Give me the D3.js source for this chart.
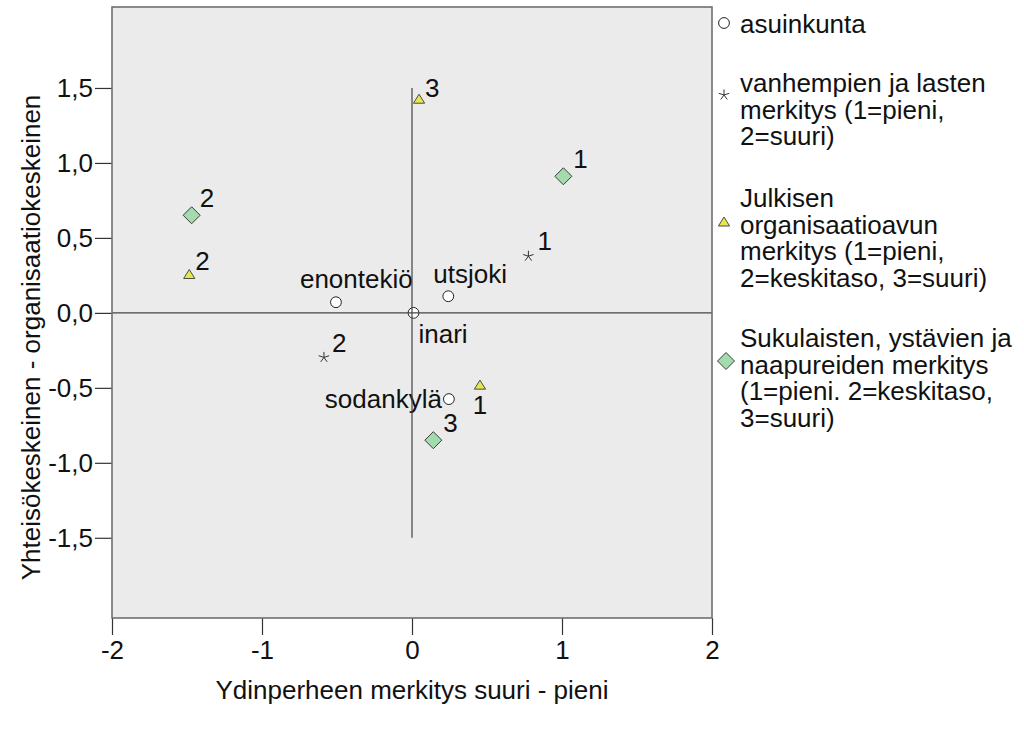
<!DOCTYPE html>
<html>
<head>
<meta charset="utf-8">
<script src="https://cdn.jsdelivr.net/npm/d3@7"></script>
<style>
  html, body { margin: 0; padding: 0; background: #ffffff; }
  svg { display: block; font-family: "Liberation Sans", Arial, sans-serif; }
</style>
</head>
<body>
<svg id="chart" width="1024" height="739"></svg>
<script>
// ---------- data ----------
const asuinkuntaNames = ["enontekiö", "utsjoki", "inari", "sodankylä"];
const asuinkuntaX = [-0.507, 0.242, 0.01, 0.246];
const asuinkuntaY = [0.071, 0.111, 0.0, -0.575];

const vanhempienLabels = ["1", "2"];
const vanhempienX = [0.776, -0.587];
const vanhempienY = [0.378, -0.297];

const julkisenLabels = ["1", "2", "3"];
const julkisenX = [0.453, -1.485, 0.047];
const julkisenY = [-0.482, 0.256, 1.425];

const sukulaistenLabels = ["1", "2", "3"];
const sukulaistenX = [1.009, -1.469, 0.142];
const sukulaistenY = [0.911, 0.651, -0.849];

const xTicks = [-2, -1, 0, 1, 2];
const yTicks = [-1.5, -1.0, -0.5, 0.0, 0.5, 1.0, 1.5];

const xTitle = "Ydinperheen merkitys suuri - pieni";
const yTitle = "Yhteisökeskeinen - organisaatiokeskeinen";

const legendLines = [
  ["asuinkunta"],
  ["vanhempien ja lasten", "merkitys (1=pieni,", "2=suuri)"],
  ["Julkisen", "organisaatioavun", "merkitys (1=pieni,", "2=keskitaso, 3=suuri)"],
  ["Sukulaisten, ystävien ja", "naapureiden merkitys", "(1=pieni. 2=keskitaso,", "3=suuri)"]
];

// ---------- layout / style ----------
const svg = d3.select("#chart");
const plot = { left: 112, right: 712, top: 7, bottom: 618 };
const FONT = 26;

const x = d3.scaleLinear().domain([-2, 2]).range([plot.left, plot.right]);
const y = d3.scaleLinear().domain([-2.035, 2.04]).range([plot.bottom, plot.top]);

const commaFmt = v => d3.format(".1f")(v).replace(".", ",").replace("−", "-");

// symbol paths
const shapes = {
  circle: d3.symbol().type(d3.symbolCircle).size(Math.PI * 5.4 * 5.4)(),
  star: (() => {
    const p = d3.path(); const r = 5.5;
    for (let i = 0; i < 5; i++) {
      const a = -Math.PI / 2 + i * 2 * Math.PI / 5;
      p.moveTo(0, 0); p.lineTo(r * Math.cos(a), r * Math.sin(a));
    }
    return p.toString();
  })(),
  triangle: "M0,-5L5.6,4L-5.6,4Z",
  diamond: "M0,-8.5L8.5,0L0,8.5L-8.5,0Z"
};
const styles = {
  circle: { fill: "#ffffff", stroke: "#222222", sw: 1 },
  star: { fill: "none", stroke: "#333333", sw: 1 },
  triangle: { fill: "#e6e650", stroke: "#3a3a3a", sw: 0.9 },
  diamond: { fill: "#a3dbad", stroke: "#3c3c3c", sw: 1 }
};

// plot background
svg.append("rect")
  .attr("x", plot.left).attr("y", plot.top)
  .attr("width", plot.right - plot.left).attr("height", plot.bottom - plot.top)
  .attr("fill", "#ebebeb");

// axes
const xAxis = svg.append("g")
  .attr("transform", `translate(0,${plot.bottom})`)
  .call(d3.axisBottom(x).tickValues(xTicks).tickSize(17).tickPadding(6).tickFormat(d3.format("d")));
const yAxis = svg.append("g")
  .attr("transform", `translate(${plot.left},0)`)
  .call(d3.axisLeft(y).tickValues(yTicks).tickSize(17).tickPadding(2).tickFormat(commaFmt));
[xAxis, yAxis].forEach(g => {
  g.select(".domain").remove();
  g.selectAll(".tick line").attr("stroke", "#333").attr("stroke-width", 1.2);
  g.selectAll(".tick text").attr("fill", "#111").style("font-size", FONT + "px")
    .style("font-family", "'Liberation Sans', Arial, sans-serif");
});
xAxis.selectAll(".tick text").text(d => d3.format("d")(d).replace("−", "-"));

// axis titles
svg.append("text")
  .attr("x", (plot.left + plot.right) / 2).attr("y", 699)
  .attr("text-anchor", "middle").style("font-size", FONT + "px").attr("fill", "#111")
  .text(xTitle);
svg.append("text")
  .attr("transform", `translate(40,${(plot.top + plot.bottom) / 2 + 25}) rotate(-90)`)
  .attr("text-anchor", "middle").style("font-size", FONT + "px").attr("fill", "#111")
  .text(yTitle);

// point label offsets (layout only)
const labelOffsets = {
  asuinkunta: [[-36, -14, "start"], [-15, -13, "start"], [5, 30, "start"], [-7, 9, "end"]],
  vanhempien: [[9, -6, "start"], [8, -5, "start"]],
  julkisen: [[0, 29, "middle"], [6, -4, "start"], [6, -2, "start"]],
  sukulaisten: [[10, -8, "start"], [8, -8, "start"], [10, -8, "start"]]
};

const series = [
  { key: "asuinkunta", shape: "circle", xs: asuinkuntaX, ys: asuinkuntaY, labels: asuinkuntaNames },
  { key: "vanhempien", shape: "star", xs: vanhempienX, ys: vanhempienY, labels: vanhempienLabels },
  { key: "julkisen", shape: "triangle", xs: julkisenX, ys: julkisenY, labels: julkisenLabels },
  { key: "sukulaisten", shape: "diamond", xs: sukulaistenX, ys: sukulaistenY, labels: sukulaistenLabels }
];

series.forEach(s => {
  const pts = s.xs.map((v, i) => ({ x: v, y: s.ys[i], label: s.labels[i], off: labelOffsets[s.key][i] }));
  const g = svg.append("g").attr("class", "series-" + s.key);
  const st = styles[s.shape];
  g.selectAll("path").data(pts).join("path")
    .attr("d", shapes[s.shape])
    .attr("transform", d => `translate(${x(d.x)},${y(d.y)})`)
    .attr("fill", st.fill).attr("stroke", st.stroke).attr("stroke-width", st.sw);
  g.selectAll("text").data(pts).join("text")
    .attr("x", d => x(d.x) + d.off[0]).attr("y", d => y(d.y) + d.off[1])
    .attr("text-anchor", d => d.off[2])
    .style("font-size", FONT + "px").attr("fill", "#111")
    .text(d => d.label);
});

// reference lines at 0 (drawn over the markers, as in the original)
svg.append("line")
  .attr("x1", x(-2)).attr("x2", x(2)).attr("y1", y(0)).attr("y2", y(0))
  .attr("stroke", "#444").attr("stroke-width", 1.2);
svg.append("line")
  .attr("x1", x(0)).attr("x2", x(0)).attr("y1", y(1.5)).attr("y2", y(-1.5))
  .attr("stroke", "#444").attr("stroke-width", 1.2);

// frame
svg.append("rect")
  .attr("x", plot.left).attr("y", plot.top)
  .attr("width", plot.right - plot.left).attr("height", plot.bottom - plot.top)
  .attr("fill", "none").attr("stroke", "#707070").attr("stroke-width", 1.6);

// legend
const legendShapes = ["circle", "star", "triangle", "diamond"];
const legendFirstBaseline = [33, 92, 207, 347];
const legendMarkerY = [23, 95, 222, 361];
const lineH = 26.7;
const lg = svg.append("g").attr("class", "legend");
legendLines.forEach((lines, i) => {
  const st = styles[legendShapes[i]];
  lg.append("path").attr("d", shapes[legendShapes[i]])
    .attr("transform", `translate(${legendShapes[i] === "diamond" ? 726 : 724},${legendMarkerY[i]})`)
    .attr("fill", st.fill).attr("stroke", st.stroke).attr("stroke-width", st.sw);
  const t = lg.append("text").attr("x", 740).attr("y", legendFirstBaseline[i])
    .style("font-size", FONT + "px").attr("fill", "#111");
  lines.forEach((ln, j) => {
    t.append("tspan").attr("x", 740).attr("y", legendFirstBaseline[i] + j * lineH).text(ln);
  });
});
</script>
</body>
</html>
